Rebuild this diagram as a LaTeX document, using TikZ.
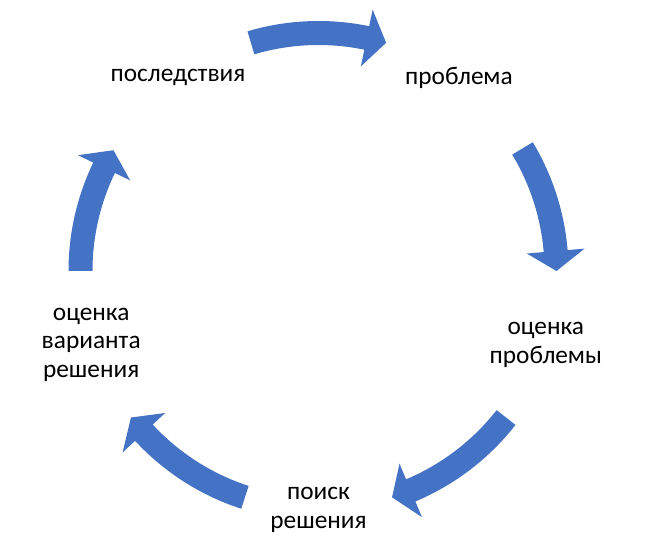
\documentclass[tikz,border=0pt]{standalone}
\usepackage{fontspec}
\setmainfont{Carlito}
\usepackage{tikz}

\definecolor{cycleblue}{RGB}{68,114,196}
% curved block arrow round the centre: tail angle, tip angle
\newcommand{\cyclearrow}[2]{%
	\fill [cycleblue] (#1:226) arc [start angle=#1, end angle={#2+4.8}, radius=226]
		-- ({#2+4.8}:209) -- (#2:238) -- ({#2+4.8}:267) -- ({#2+4.8}:250)
		arc [start angle={#2+4.8}, end angle=#1, radius=250] -- cycle;}

\begin{document}
\begin{tikzpicture}[x=0.75pt,y=0.75pt]
		\tikzstyle{every node}+=[inner sep=0pt, align=center, font=\fontsize{19pt}{21.5pt}\selectfont]
		\useasboundingbox (0,0) rectangle (650,556);
		\coordinate (ctr) at (318.5,285);
		\node (problem) at ([shift={(54:239)}]ctr) {проблема};
		\node (assess) at ([shift={(-18:239)}]ctr) {оценка\\проблемы};
		\node (search) at ([shift={(-90:239)}]ctr) {поиск\\решения};
		\node (variant) at ([shift={(198:239)}]ctr) {оценка\\варианта\\решения};
		\node (result) at ([shift={(126:239)}]ctr) {последствия};
		\begin{scope}[shift={(ctr)}]
			\cyclearrow{106.5}{73.5}
			\cyclearrow{31}{0}
			\cyclearrow{-38}{-72}
			\cyclearrow{-108}{-142}
			\cyclearrow{180}{149.5}
		\end{scope}
	\end{tikzpicture}
\end{document}
